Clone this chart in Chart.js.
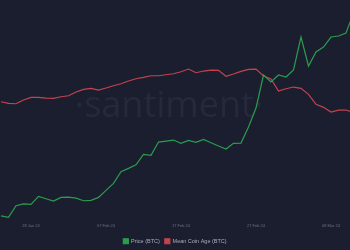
<!DOCTYPE html>
<html>
<head>
<meta charset="utf-8">
<script src="https://cdn.jsdelivr.net/npm/chart.js@4.4.1/dist/chart.umd.min.js"></script>
<style>
  html, body { margin: 0; padding: 0; background: #1b1e2e; }
  #wrap { position: relative; width: 350px; height: 250px; }
</style>
</head>
<body>
<div id="wrap"><canvas id="chart" width="350" height="250"></canvas></div>
<script>
  // daily points, 24 Jan 24 .. 11 Mar 24
  const dates = [
    "24 Jan 24", "25 Jan 24", "26 Jan 24", "27 Jan 24", "28 Jan 24", "29 Jan 24", "30 Jan 24", "31 Jan 24",
    "01 Feb 24", "02 Feb 24", "03 Feb 24", "04 Feb 24", "05 Feb 24", "06 Feb 24", "07 Feb 24", "08 Feb 24",
    "09 Feb 24", "10 Feb 24", "11 Feb 24", "12 Feb 24", "13 Feb 24", "14 Feb 24", "15 Feb 24", "16 Feb 24",
    "17 Feb 24", "18 Feb 24", "19 Feb 24", "20 Feb 24", "21 Feb 24", "22 Feb 24", "23 Feb 24", "24 Feb 24",
    "25 Feb 24", "26 Feb 24", "27 Feb 24", "28 Feb 24", "29 Feb 24", "01 Mar 24", "02 Mar 24", "03 Mar 24",
    "04 Mar 24", "05 Mar 24", "06 Mar 24", "07 Mar 24", "08 Mar 24", "09 Mar 24", "10 Mar 24", "11 Mar 24"
  ];
  const tickIndexes = [4, 14, 24, 34, 44];

  const price = [
    40100, 39850, 41700, 42000, 41900, 43170, 42790, 42430,
    43010, 43060, 42900, 42480, 42540, 43010, 44120, 45220,
    47060, 47590, 48160, 49810, 49650, 51750, 51910, 52070,
    51550, 52020, 51700, 52180, 51640, 51120, 50640, 51550,
    51590, 54120, 57120, 62340, 61230, 62340, 62020, 63130,
    68340, 63760, 65970, 66760, 68340, 68500, 68970, 72130
  ];
  const meanCoinAge = [
    1848.3, 1846.7, 1846.3, 1850.0, 1852.7, 1852.7, 1852.0, 1851.7,
    1853.3, 1854.3, 1858.0, 1860.7, 1861.7, 1860.0, 1862.0, 1864.3,
    1866.3, 1869.0, 1871.3, 1872.7, 1874.3, 1874.3, 1875.3, 1876.3,
    1878.3, 1881.0, 1877.3, 1879.0, 1880.0, 1879.7, 1873.7, 1876.0,
    1878.7, 1880.7, 1881.0, 1874.0, 1871.0, 1859.0, 1861.3, 1863.0,
    1861.7, 1855.7, 1845.7, 1842.7, 1838.0, 1840.0, 1840.0, 1837.5
  ];

  const GREEN = "#2a9d4e";
  const RED = "#c4434d";

  const watermark = {
    id: "watermark",
    beforeDatasetsDraw(chart) {
      const ctx = chart.ctx;
      ctx.save();
      ctx.font = "36px 'Open Sans'";
      ctx.fillStyle = "#252939";
      ctx.textAlign = "center";
      ctx.textBaseline = "alphabetic";
      ctx.fillText("·santiment·", 169, 117);
      ctx.restore();
    }
  };

  new Chart(document.getElementById("chart").getContext("2d"), {
    type: "line",
    data: {
      datasets: [
        {
          label: "Price (BTC)",
          data: price.map((v, i) => ({ x: i, y: v })),
          borderColor: GREEN,
          backgroundColor: GREEN,
          borderWidth: 1.2,
          pointRadius: 0,
          tension: 0,
          yAxisID: "y",
        },
        {
          label: "Mean Coin Age (BTC)",
          data: meanCoinAge.map((v, i) => ({ x: i, y: v })),
          borderColor: RED,
          backgroundColor: RED,
          borderWidth: 1.2,
          pointRadius: 0,
          tension: 0,
          yAxisID: "y1",
        },
      ],
    },
    options: {
      responsive: false,
      animation: false,
      layout: { padding: { top: 0, left: 0, right: 0, bottom: -4 } },
      plugins: {
        legend: {
          position: "bottom",
          labels: {
            color: "#a9adba",
            boxWidth: 5,
            boxHeight: 5,
            padding: 5,
            font: { family: "'Liberation Sans'", size: 5.5 },
          },
        },
        tooltip: { enabled: false },
      },
      scales: {
        x: {
          type: "linear",
          min: -0.1333,
          max: 46.533,
          grid: { display: false, drawTicks: false },
          border: { display: false },
          afterBuildTicks: axis => {
            axis.ticks = tickIndexes.map(v => ({ value: v }));
          },
          ticks: {
            color: "#6c7182",
            padding: 4.8,
            maxRotation: 0,
            font: { family: "'Liberation Sans'", size: 4 },
            callback: v => dates[v],
          },
        },
        y: {
          display: false,
          min: 39584,
          max: 74186,
        },
        y1: {
          display: false,
          min: 1731,
          max: 1950,
        },
      },
    },
    plugins: [watermark],
  });
</script>
</body>
</html>
